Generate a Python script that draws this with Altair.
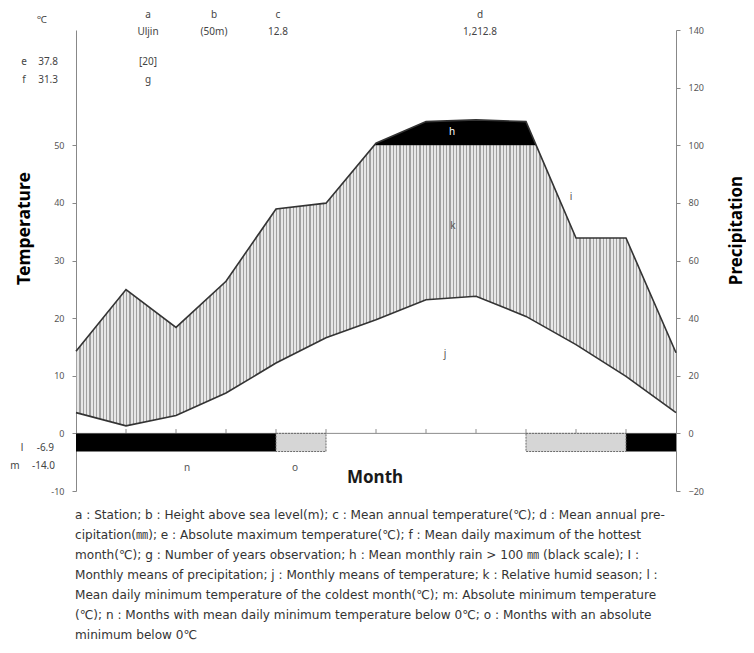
import altair as alt
import numpy as np
import pandas as pd

# ---------------- data ----------------
month_pos = [0, 1, 2, 3, 4, 5, 6, 7, 8, 9, 10, 11, 12]
temperature = [3.6, 1.3, 3.1, 7.0, 12.2, 16.6, 19.7, 23.2, 23.8, 20.3, 15.4, 9.9, 3.6]
precipitation = [28.5, 49.9, 36.8, 52.8, 77.9, 79.9, 100.7, 108.2, 108.8, 108.2, 67.8, 67.8, 28.0]

frost_start = [0, 4, 9, 11]
frost_end = [4, 5, 11, 12]
frost_kind = ["n", "o", "o", "n"]

header_keys = ["a", "b", "c", "d"]
header_vals = ["Uljin", "(50m)", "12.8", "1,212.8"]
side_keys = ["e", "f", "l", "m"]
side_vals = ["37.8", "31.3", "-6.9", "-14.0"]
years_obs = ["[20]", "g"]
area_keys = ["h", "k", "j", "i", "n", "o"]

temp_ticks = [-10, 0, 10, 20, 30, 40, 50]
prec_ticks = [-20, 0, 20, 40, 60, 80, 100, 120, 140]

caption_lines = [
    "a : Station; b : Height above sea level(m); c : Mean annual temperature(℃); d : Mean annual pre-",
    "cipitation(㎜); e : Absolute maximum temperature(℃); f : Mean daily maximum of the hottest",
    "month(℃); g : Number of years observation; h : Mean monthly rain  >  100 ㎜ (black scale); I :",
    "Monthly means of precipitation; j : Monthly means of temperature; k : Relative humid season; l :",
    "Mean daily minimum temperature of the coldest month(℃); m: Absolute minimum temperature",
    "(℃); n : Months with mean daily minimum temperature below 0℃; o : Months with an absolute",
    "minimum below 0℃",
]

# ---------------- layout (positions in data units) ----------------
FONT = "Noto Sans, Noto Sans CJK KR"
CAP_FONT = "DejaVu Sans, Noto Sans CJK KR"
header_x = [1.44, 2.76, 4.04, 8.08]
header_key_y, header_val_y = 145.2, 139.4
side_y = [128.9, 122.7, -5.1, -11.3]
side_key_x = [-1.04, -1.04, -1.08, -1.22]
side_val_x = [-0.36, -0.36, -0.44, -0.42]
years_x = 1.44
area_x = [7.52, 7.54, 7.38, 9.9, 2.22, 4.38]
area_y = [104.6, 72.0, 27.6, 82.1, -11.9, -11.9]
area_color = ["white", "#555", "#555", "#555", "#555", "#555"]

xs = alt.Scale(domain=[0, 12], nice=False, zero=False)
ys = alt.Scale(domain=[-20, 140], nice=False, zero=False)

# ---------------- derived frames ----------------
x = np.array(month_pos, dtype=float)
p = np.array(precipitation)
t2 = np.array(temperature) * 2.0  # 10 degC = 20 mm
xx = list(x)
for i in range(len(x) - 1):
    if (p[i] - 100) * (p[i + 1] - 100) < 0:
        xx.append(x[i] + (100 - p[i]) / (p[i + 1] - p[i]))
xx = np.sort(np.array(xx))
pi = np.interp(xx, x, p)
ti = np.interp(xx, x, t2)
dense = pd.DataFrame({"m": xx, "p": pi, "t2": ti, "pcap": np.minimum(pi, 100.0), "hundred": 100.0})
wet = dense[dense["p"] >= 100 - 1e-9]

base = pd.DataFrame({"m": month_pos, "t2": t2, "p": p})

# stripes for the humid-season hatching
N = 180
stops = []
for i in range(N):
    a, b, c = i / N, (i + 0.42) / N, (i + 1) / N
    stops += [
        alt.GradientStop(color="#a2a2a2", offset=a),
        alt.GradientStop(color="#a2a2a2", offset=b),
        alt.GradientStop(color="#e8e8e8", offset=b),
        alt.GradientStop(color="#e8e8e8", offset=c),
    ]
hatch_fill = alt.LinearGradient(gradient="linear", stops=stops, x1=0, x2=1, y1=0, y2=0)

X = lambda f: alt.X(f, type="quantitative", scale=xs, axis=None)
Y = lambda f: alt.Y(f, type="quantitative", scale=ys, axis=None)

hatch = alt.Chart(dense).mark_area(fill=hatch_fill, stroke=None).encode(
    x=X("m"), y=Y("pcap"), y2="t2")
black = alt.Chart(wet).mark_area(color="black").encode(x=X("m"), y=Y("p"), y2="hundred")
temp_line = alt.Chart(base).mark_line(color="#333", strokeWidth=1.6).encode(x=X("m"), y=Y("t2"))
prec_line = alt.Chart(base).mark_line(color="#333", strokeWidth=1.6).encode(x=X("m"), y=Y("p"))

zero_df = pd.DataFrame({"m": [month_pos[0], month_pos[-1]], "y": [0, 0]})
zero_line = alt.Chart(zero_df).mark_line(color="#8c8c8c", strokeWidth=1).encode(x=X("m"), y=Y("y"))
tick_df = pd.DataFrame({"m": month_pos[1:-1], "y0": 0.0, "y1": 1.5})
month_ticks = alt.Chart(tick_df).mark_rule(color="#8c8c8c").encode(x=X("m"), y=Y("y0"), y2="y1")

bars = pd.DataFrame({"s": frost_start, "e": frost_end, "k": frost_kind, "y0": 0.0, "y1": -6.3})
bars_n = alt.Chart(bars[bars.k == "n"]).mark_rect(color="black").encode(
    x=X("s"), x2="e", y=Y("y0"), y2="y1")
bars_o = alt.Chart(bars[bars.k == "o"]).mark_rect(
    fill="#d6d6d6", stroke="#6a6a6a", strokeDash=[2, 1], strokeWidth=1).encode(
    x=X("s"), x2="e", y=Y("y0"), y2="y1")

def text_layer(df, **kw):
    opts = dict(font=FONT, fontSize=10, color="#444")
    opts.update(kw)
    return alt.Chart(df).mark_text(**opts).encode(x=X("x"), y=Y("y"), text="t:N")

hdr_k = text_layer(pd.DataFrame({"x": header_x, "y": header_key_y, "t": header_keys}))
hdr_v = text_layer(pd.DataFrame({"x": header_x, "y": header_val_y, "t": header_vals}))
deg = text_layer(pd.DataFrame({"x": [-0.68], "y": [143.6], "t": ["℃"]}))
side_k = text_layer(pd.DataFrame({"x": side_key_x, "y": side_y, "t": side_keys}))
side_v = text_layer(pd.DataFrame({"x": side_val_x, "y": side_y, "t": side_vals}), align="right")
yrs = text_layer(pd.DataFrame({"x": years_x, "y": side_y[:2], "t": years_obs}))
area_lbl = alt.Chart(pd.DataFrame({"x": area_x, "y": area_y, "t": area_keys, "c": area_color})).mark_text(
    font=FONT, fontSize=10).encode(x=X("x"), y=Y("y"), text="t:N",
                                   color=alt.Color("c:N", scale=None))
month_lbl = text_layer(pd.DataFrame({"x": [5.98], "y": [-15.5], "t": ["Month"]}),
                       fontSize=17, fontWeight="bold", color="#1a1a1a")
caption = alt.Chart(pd.DataFrame({"x": [-0.02], "y": [-26.4], "t": ["\n".join(caption_lines)]})).mark_text(
    font=CAP_FONT, fontSize=12.1, color="#333", align="left", baseline="top", lineBreak="\n", lineHeight=19.9
).encode(x=X("x"), y=Y("y"), text="t:N")

axis_common = dict(
    titleFont=FONT, titleFontWeight="bold", titleColor="black",
    titleAngle=270, titleAlign="center", titleBaseline="middle",
    labelFont=FONT, labelFontSize=9, labelColor="#555", labelPadding=8,
    tickSize=4, tickColor="#888", domainColor="#888", grid=False,
)
left_axis = alt.Axis(orient="left", values=[v * 2 for v in temp_ticks], labelExpr="datum.value / 2",
                     title="Temperature", titleX=-52, titleY=198, titleFontSize=17.5, **axis_common)
right_axis = alt.Axis(orient="right", values=prec_ticks, title="Precipitation", titleX=60, titleY=200,
                      titleFontSize=17, **axis_common)

left_layer = alt.Chart(base).mark_point(opacity=0).encode(
    x=X("m"), y=alt.Y("p", type="quantitative", scale=ys, axis=left_axis))
right_layer = alt.Chart(base).mark_point(opacity=0).encode(
    x=X("m"), y=alt.Y("p", type="quantitative", scale=ys, axis=right_axis))

main = alt.layer(hatch, black, temp_line, prec_line, zero_line, month_ticks, bars_n, bars_o,
                 hdr_k, hdr_v, deg, side_k, side_v, yrs, area_lbl, month_lbl, caption)

chart = alt.layer(main, left_layer, right_layer).resolve_scale(y="independent").properties(
    width=600, height=461,
    autosize=alt.AutoSizeParams(type="none"),
    padding={"left": 68, "right": 70, "top": 22, "bottom": 154},
    background="white",
).configure_view(stroke=None)

chart.save("out.html", embed_options={"renderer": "svg", "actions": False})
